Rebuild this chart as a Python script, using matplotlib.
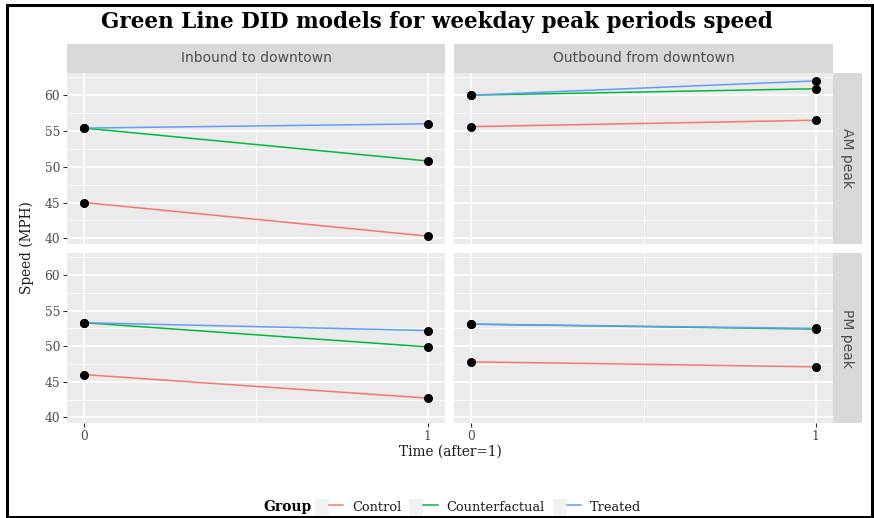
import matplotlib.pyplot as plt
from matplotlib.lines import Line2D
from matplotlib.patches import Patch, Rectangle
from matplotlib.legend_handler import HandlerTuple

# facets
directions = ["Inbound to downtown", "Outbound from downtown"]
periods = ["AM peak", "PM peak"]
time = [0, 1]

# speed (MPH) before/after, indexed [period][direction]
control = [[[45.0, 40.3], [55.6, 56.5]],
           [[46.0, 42.7], [47.8, 47.1]]]
counterfactual = [[[55.4, 50.8], [60.0, 60.9]],
                  [[53.3, 49.9], [53.1, 52.4]]]
treated = [[[55.4, 56.0], [60.0, 62.0]],
           [[53.3, 52.2], [53.1, 52.5]]]

groups = ["Control", "Counterfactual", "Treated"]
colors = ["#F8766D", "#00BA38", "#619CFF"]
series = [control, counterfactual, treated]

W, H = 874, 518
fig = plt.figure(figsize=(W / 100, H / 100), dpi=100)


def px_box(x0, y0, x1, y1):
    # pixel box (top-left origin) -> figure fraction rect
    return [x0 / W, 1 - y1 / H, (x1 - x0) / W, (y1 - y0) / H]


col_x = [(67, 445), (454, 833)]
row_y = [(73, 244), (253, 423)]
strip_top = (44, 73)
strip_right = (833, 862)

serif = "DejaVu Serif"
txt_col = "#4D4D4D"

for r in range(2):
    for c in range(2):
        ax = fig.add_axes(px_box(col_x[c][0], row_y[r][0], col_x[c][1], row_y[r][1]))
        ax.set_facecolor("#EBEBEB")
        for s in ax.spines.values():
            s.set_visible(False)
        ax.set_xlim(-0.05, 1.05)
        ax.set_ylim(39.2, 63.1)
        ax.set_xticks([0, 1])
        ax.set_xticks([0.5], minor=True)
        ax.set_yticks([40, 45, 50, 55, 60])
        ax.set_yticks([42.5, 47.5, 52.5, 57.5, 62.5], minor=True)
        ax.grid(which="major", color="white", lw=1.1)
        ax.grid(which="minor", color="white", lw=0.55)
        ax.set_axisbelow(True)
        ax.tick_params(which="minor", length=0)
        ax.tick_params(which="major", length=3, width=0.8, color="#333333",
                       labelsize=8.8, labelcolor=txt_col, pad=2)
        for lab in ax.get_xticklabels() + ax.get_yticklabels():
            lab.set_fontfamily(serif)
        if c != 0:
            ax.tick_params(axis="y", left=False, labelleft=False)
        if r != 1:
            ax.tick_params(axis="x", bottom=False, labelbottom=False)

        for vals, col in zip(series, colors):
            ax.plot(time, vals[r][c], color=col, lw=1.1, zorder=2)
        for vals in series:
            ax.scatter(time, vals[r][c], s=30, color="black", zorder=3,
                       clip_on=False)

# strips
for c in range(2):
    sx = fig.add_axes(px_box(col_x[c][0], strip_top[0], col_x[c][1], strip_top[1]))
    sx.set_facecolor("#D9D9D9")
    sx.set_xticks([])
    sx.set_yticks([])
    for s in sx.spines.values():
        s.set_visible(False)
    sx.text(0.5, 0.5, directions[c], ha="center", va="center", fontsize=10,
            color=txt_col, transform=sx.transAxes)
for r in range(2):
    sx = fig.add_axes(px_box(strip_right[0], row_y[r][0], strip_right[1], row_y[r][1]))
    sx.set_facecolor("#D9D9D9")
    sx.set_xticks([])
    sx.set_yticks([])
    for s in sx.spines.values():
        s.set_visible(False)
    sx.text(0.5, 0.5, periods[r], ha="center", va="center", fontsize=10,
            color=txt_col, rotation=-90, transform=sx.transAxes)

fig.text(437 / W, 1 - 22 / H, "Green Line DID models for weekday peak periods speed",
         ha="center", va="center", fontsize=15.5, fontweight="bold",
         family=serif, color="black")
fig.text(27 / W, 1 - 248 / H, "Speed (MPH)", ha="center", va="center",
         rotation=90, fontsize=9.8, family=serif, color="#1A1A1A")
fig.text(450 / W, 1 - 452 / H, "Time (after=1)", ha="center", va="center",
         fontsize=9.8, family=serif, color="#1A1A1A")

# legend
fig.text(287 / W, 1 - 507 / H, "Group", ha="center", va="center",
         fontsize=10, fontweight="bold", family=serif)
handles = [(Patch(facecolor="#F2F2F2", edgecolor="none"), Line2D([], [], color=col, lw=1.1))
           for col in colors]
fig.legend(handles, groups, loc="center", bbox_to_anchor=(478 / W, 1 - 507 / H),
           ncol=3, frameon=False, handler_map={tuple: HandlerTuple(ndivide=None, pad=0)},
           handlelength=2.2, handleheight=1.6, handletextpad=0.7, columnspacing=0.6,
           prop={"family": serif, "size": 9.3}, labelcolor="#1A1A1A")

# outer frame
fig.patches.append(Rectangle((7 / W, 1 - 516.5 / H), (872 - 7) / W, (516.5 - 5) / H,
                             transform=fig.transFigure, fill=False, lw=2.2,
                             edgecolor="black"))

fig.savefig("out.png", dpi=100)
